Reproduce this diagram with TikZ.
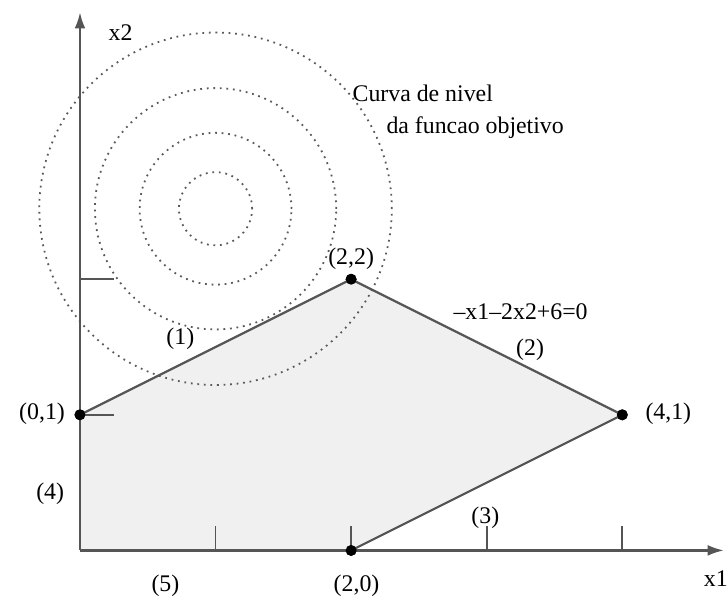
\documentclass[tikz,border=0pt]{standalone}
\usepackage{fontspec}
\setmainfont{Liberation Serif}
\usetikzlibrary{arrows.meta}
\definecolor{pllinha}{HTML}{555555}
\definecolor{plregiao}{HTML}{F0F0F0}
\definecolor{plnivel}{HTML}{5A5A5A}
\tikzset{
  pleixo/.style={-{Latex[length=2.4mm,width=1.6mm]}, line width=1pt, draw=pllinha},
  pllado/.style={line width=0.9pt, draw=pllinha},
  plmarca/.style={line width=0.7pt, draw=pllinha},
  plvertice/.style={circle, fill=black, inner sep=0pt, minimum size=4.6pt},
  plnivelcurva/.style={dotted, line width=0.75pt, draw=plnivel},
  plrotulo/.style={font=\normalsize, inner sep=1pt},
}

\begin{document}
\begin{tikzpicture}[x=2cm, y=2cm]
  \useasboundingbox (-0.59,-0.384) rectangle (4.78,4.06);
  % eixos e vertices
  \coordinate (o) at (0,0);
  \coordinate (xfim) at (4.75,0);
  \coordinate (yfim) at (0,3.97);
  \coordinate (centro) at (1,2.52);
  \node[plvertice] (v01) at (0,1) {};
  \node[plvertice] (v22) at (2,2) {};
  \node[plvertice] (v41) at (4,1) {};
  \node[plvertice] (v20) at (2,0) {};
  % regiao viavel
  \fill[plregiao] (o) -- (v01.center) -- (v22.center) -- (v41.center) -- (v20.center) -- cycle;
  % curvas de nivel
  \foreach \r in {0.27,0.56,0.89,1.3}
    \draw[plnivelcurva] (centro) circle (\r);
  \draw[pllado] (v01.center) -- (v22.center);
  \draw[pllado] (v22.center) -- (v41.center);
  \draw[pllado] (v41.center) -- (v20.center);
  \draw[pleixo] (o) -- (xfim);
  \draw[pleixo] (o) -- (yfim);
  \foreach \i in {1,2}
    \draw[plmarca] (0,\i) -- (0.25,\i);
  \foreach \i in {1,2,3,4}
    \draw[plmarca] (\i,0) -- (\i,0.18);
  \node[plvertice] at (v01) {};
  \node[plvertice] at (v22) {};
  \node[plvertice] at (v41) {};
  \node[plvertice] at (v20) {};
  % rotulos
  \node[plrotulo] (rx2) at (0.30,3.82) {x2};
  \node[plrotulo] (rx1) at (4.69,-0.21) {x1};
  \node[plrotulo, anchor=west] (rcurva) at (1.99,3.37) {Curva de nivel};
  \node[plrotulo, anchor=west] (rfuncao) at (2.24,3.12) {da funcao objetivo};
  \node[plrotulo] (r22) at (2.0,2.15) {(2,2)};
  \node[plrotulo] (req) at (3.25,1.76) {--x1--2x2+6=0};
  \node[plrotulo] (rr2) at (3.32,1.48) {(2)};
  \node[plrotulo] (rr1) at (0.74,1.56) {(1)};
  \node[plrotulo] (r01) at (-0.28,1.01) {(0,1)};
  \node[plrotulo] (r41) at (4.34,1.01) {(4,1)};
  \node[plrotulo] (rr4) at (-0.22,0.42) {(4)};
  \node[plrotulo] (rr3) at (2.99,0.24) {(3)};
  \node[plrotulo] (rr5) at (0.63,-0.26) {(5)};
  \node[plrotulo] (r20) at (2.04,-0.26) {(2,0)};
\end{tikzpicture}
\end{document}
